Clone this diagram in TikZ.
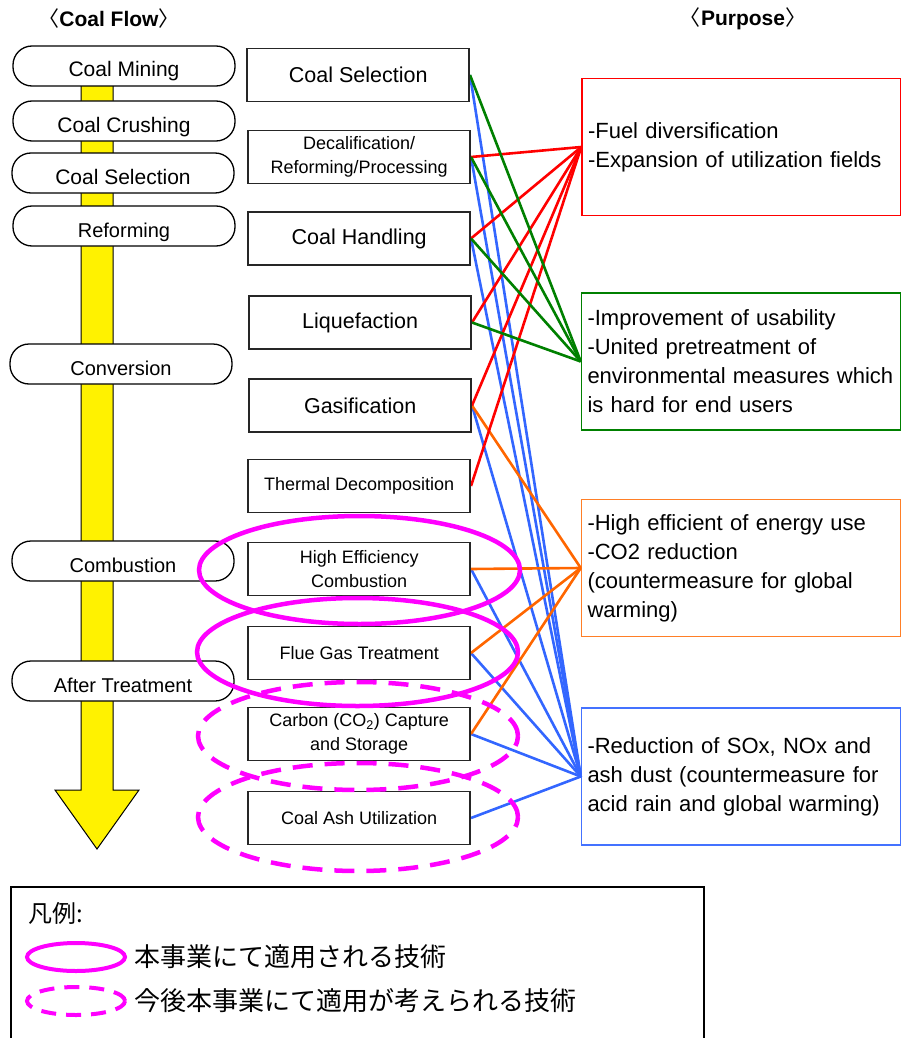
\documentclass[tikz,border=0pt]{standalone}
\usepackage{fontspec}
\setmainfont{Liberation Sans}
\newfontfamily\cjk{Noto Sans CJK JP}
\definecolor{lnred}{HTML}{FF0000}
\definecolor{lngreen}{HTML}{008000}
\definecolor{lnblue}{HTML}{3366FF}
\definecolor{lnorange}{HTML}{FF6600}
\definecolor{bxorange}{HTML}{FF7F27}
\definecolor{bxblue}{HTML}{4472FF}
\definecolor{mark}{HTML}{FF00FF}
\begin{document}
\begin{tikzpicture}[x=1pt,y=-1pt,
  pill/.style={draw=black, line width=1.3pt, fill=white, rounded corners=19pt,
    minimum width=222pt, minimum height=40pt, inner sep=0pt,
    text height=22.5pt, text depth=0.5pt},
  bigpill/.style={pill, font=\fontsize{21}{24}\selectfont},
  smallpill/.style={pill, font=\fontsize{20}{24}\selectfont},
  midbox/.style={draw=black!85, line width=1.6pt, fill=white, minimum width=222pt,
    minimum height=53pt, inner sep=0pt, align=center},
  bigtxt/.style={midbox, font=\fontsize{21.5}{26}\selectfont},
  smalltxt/.style={midbox, font=\fontsize{18}{24.5}\selectfont},
  purpose/.style={line width=1.5pt, fill=white, minimum width=319pt, minimum height=137pt,
    inner sep=0pt, text width=307pt, align=left, font=\fontsize{22}{29}\selectfont},
  conn/.style={line width=2.6pt},
  used/.style={draw=mark, line width=4.5pt},
  planned/.style={draw=mark, line width=4.5pt, dash pattern=on 20pt off 12pt},
  header/.style={font=\bfseries\fontsize{21}{24}\selectfont},
  legtext/.style={anchor=west, inner sep=0pt, font=\cjk\fontsize{26}{30}\selectfont}
]
\useasboundingbox (0,0) rectangle (901,1038);
\clip (0,0) rectangle (901,1038);

% headers
\node[header] (hflow) at (109,19) {{\normalfont\cjk 〈}Coal Flow{\normalfont\cjk 〉}};
\node[header] (hpurp) at (743,19) {{\normalfont\cjk 〈}Purpose{\normalfont\cjk 〉}};

% yellow flow arrow
\draw[fill=yellow, line width=1pt] (81,75) -- (81,790) -- (55,790) -- (97,849)
  -- (139,790) -- (113,790) -- (113,75) -- cycle;

% process stages
\node[bigpill] (mining) at (124,66) {Coal Mining};
\node[bigpill] (crush) at (124,121) {Coal Crushing};
\node[bigpill] (csel) at (123,173) {Coal Selection};
\node[smallpill] (reform) at (124,226) {Reforming};
\node[smallpill] (conv) at (121,364) {Conversion};
\node[smallpill] (comb) at (123,561) {Combustion};
\node[smallpill] (after) at (123,681) {After Treatment};

% purpose boxes
\node[purpose, draw=lnred] (pfuel) at (741.5,147)
  {-Fuel diversification\\-Expansion of utilization fields};
\node[purpose, draw=lngreen] (puse) at (741,361.5)
  {-Improvement of usability\\-United pretreatment of\\environmental measures which\\is hard for end users};
\node[purpose, draw=bxorange] (peff) at (741,568)
  {-High efficient of energy use\\-CO2 reduction\\(countermeasure for global\\warming)};
\node[purpose, draw=bxblue] (pred) at (741,776.5)
  {-Reduction of SOx, NOx and\\ash dust (countermeasure for\\acid rain and global warming)};

% right-hand ends of the technology boxes
\coordinate (tsel) at (470,75);
\coordinate (tdec) at (471,157);
\coordinate (thand) at (471,238.5);
\coordinate (tliq) at (472,322.5);
\coordinate (tgas) at (472,405.5);
\coordinate (tthm) at (471,486);
\coordinate (thig) at (471,569);
\coordinate (tflu) at (471,653);
\coordinate (tccs) at (471,734);
\coordinate (tash) at (471,818);

% connectors
\foreach \t in {tsel,tdec,thand,tgas,thig,tflu,tccs,tash}
  \draw[conn, lnblue] (\t) -- (pred.west);
\foreach \t in {tgas,thig,tflu,tccs}
  \draw[conn, lnorange] (\t) -- (peff.west);
\foreach \t in {tdec,thand,tliq,tgas,tthm}
  \draw[conn, lnred] (\t) -- (pfuel.west);
\foreach \t in {tsel,tdec,thand,tliq}
  \draw[conn, lngreen] (\t) -- (puse.west);

% technology boxes
\node[bigtxt, anchor=east] (bsel) at (tsel) {Coal Selection};
\node[smalltxt, anchor=east] (bdec) at (tdec) {Decalification/\\Reforming/Processing};
\node[bigtxt, anchor=east] (bhand) at (thand) {Coal Handling};
\node[bigtxt, anchor=east] (bliq) at (tliq) {Liquefaction};
\node[bigtxt, anchor=east] (bgas) at (tgas) {Gasification};
\node[smalltxt, anchor=east] (bthm) at (tthm) {Thermal Decomposition};
\node[smalltxt, anchor=east] (bhig) at (thig) {High Efficiency\\Combustion};
\node[smalltxt, anchor=east] (bflu) at (tflu) {Flue Gas Treatment};
\node[smalltxt, anchor=east] (bccs) at (tccs) {Carbon (CO\textsubscript{2}) Capture\\and Storage};
\node[smalltxt, anchor=east] (bash) at (tash) {Coal Ash Utilization};

% technologies applied / to be applied
\draw[used] (359.5,570) ellipse [x radius=160.5pt, y radius=54pt];
\draw[used] (357.5,652) ellipse [x radius=160.5pt, y radius=54pt];
\draw[planned] (358,736) ellipse [x radius=160pt, y radius=54pt];
\draw[planned] (358,817) ellipse [x radius=160pt, y radius=54pt];

% legend
\draw[line width=2pt] (11,1060) -- (11,887) -- (704,887) -- (704,1060);
\node[legtext, font=\cjk\fontsize{24}{28}\selectfont] (legtitle) at (28,913) {凡例:};
\draw[used, line width=4pt] (76,957) ellipse [x radius=49pt, y radius=14pt];
\node[legtext] (leg1) at (134,957) {本事業にて適用される技術};
\draw[planned, line width=4pt, dash pattern=on 15pt off 10pt] (76,1001) ellipse [x radius=49pt, y radius=14pt];
\node[legtext] (leg2) at (134,1001) {今後本事業にて適用が考えられる技術};
\end{tikzpicture}
\end{document}
